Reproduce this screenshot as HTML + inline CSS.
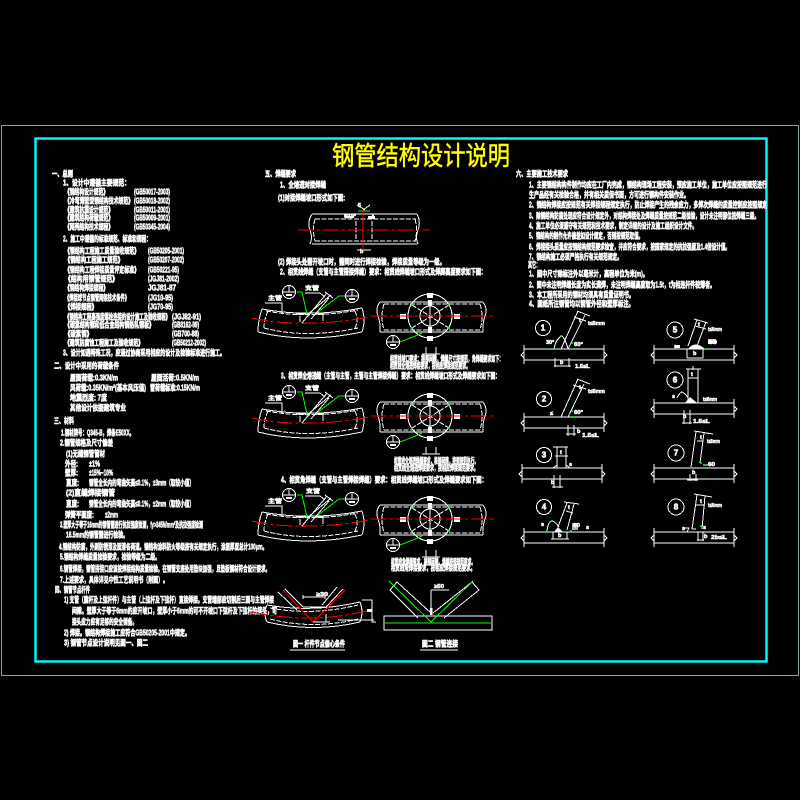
<!DOCTYPE html>
<html><head><meta charset="utf-8"><style>
html,body{margin:0;padding:0;background:#000;width:800px;height:800px;overflow:hidden}
svg{display:block}
.t{font-family:"Liberation Sans","Noto Sans CJK SC",sans-serif;font-size:8px;font-weight:bold;fill:#fff;stroke:#fff;stroke-width:.6;dominant-baseline:central}
.s{font-size:5.5px;stroke-width:.5}
.w,.d,.r,.g{shape-rendering:crispEdges}
.w{fill:none;stroke:#fff;stroke-width:1}
.d{fill:none;stroke:#fff;stroke-width:1;stroke-dasharray:5 1.5}
.r{fill:none;stroke:#f00;stroke-width:1;stroke-dasharray:16 3 3 3}
.g{fill:none;stroke:#0f0;stroke-width:1}
</style></head><body>
<svg width="800" height="800" viewBox="0 0 800 800" xmlns="http://www.w3.org/2000/svg">
<defs>
<g id="jl">
<path class="w" d="M262 309Q310 318 362 308M258 332Q306 344 362 332M262 309Q258 320 258 332M362 308Q366 320 362 332"/>
<path class="d" d="M266 311Q310 319 358 310M264 328Q306 339 358 328M268 311Q264 320 264 328M355 311Q359 320 355 328"/>
<path class="r" d="M252 318Q302 329 370 317"/>
<path class="w" d="M302 323L327 293M307 315L331 295M311 319L329 298M325 292L333 298"/>
<path class="w" d="M300 316V322M323 314V321M296 314H306M316 314H326"/>
<path class="g" d="M297 292H302L307 314M345 296H339L318 312"/>
<circle class="w" cx="289" cy="292" r="6.5"/><circle class="w" cx="352" cy="296" r="6.5"/>
<path class="w" d="M283 292H295M289 286V292M346 296H358M352 290V296"/>
<rect x="286" y="294" width="6" height="2" fill="#fff"/><rect x="349" y="298" width="6" height="2" fill="#fff"/>
<path class="w" d="M265 303H282V313M305 293H320L325 297"/>
</g>
<g id="jr">
<path class="w" d="M380 302H483M380 332H483M380 302Q375 308 378 316Q381 325 380 332M483 302Q488 309 485 316Q482 325 483 332"/>
<path class="d" d="M384 304H481M384 330H481M384 304Q380 316 384 330M480 304Q484 316 480 330"/>
<circle class="w" cx="430" cy="316" r="22"/><circle class="w" cx="430" cy="316" r="10"/>
<path class="d" d="M412 305L449 328M449 305L412 328"/>
<path class="w" d="M430 300V332"/>
<rect x="428" y="300" width="4" height="6" fill="#fff"/><rect x="428" y="327" width="4" height="6" fill="#fff"/>
<circle cx="412" cy="305" r="1" fill="#0f0"/><circle cx="449" cy="305" r="1" fill="#0f0"/><circle cx="412" cy="328" r="1" fill="#0f0"/><circle cx="449" cy="328" r="1" fill="#0f0"/>
<rect x="400" y="314" width="6" height="5" fill="#fff"/><rect x="454" y="314" width="6" height="5" fill="#fff"/>
<rect x="427" y="293" width="6" height="5" fill="#fff"/><rect x="427" y="336" width="6" height="5" fill="#fff"/>
<path class="r" d="M371 316H495"/>
<circle class="w" cx="393" cy="342" r="6.5"/><path class="w" d="M387 342H399M393 336V342"/><rect x="390" y="344" width="6" height="2" fill="#fff"/>
<path class="g" d="M400 342L413 337L422 333"/>
<path class="w" d="M422 354H440M426 347V354M436 347V354"/>
</g>
<g id="pl">
<path class="w" d="M0 0H80M0 11H80M0-4V15M80-4V15M0 3L-3 6L0 9M80 3L83 6L80 9"/>
</g>
</defs>

<rect x="1.5" y="125.5" width="797" height="550" fill="none" stroke="#8aa" stroke-width="1"/>
<rect x="35.5" y="138.5" width="731" height="523" fill="none" stroke="#0ff" stroke-width="2.4"/>

<text x="332" y="165" textLength="178" lengthAdjust="spacingAndGlyphs" style="font-family:'Liberation Sans','Noto Sans CJK SC',sans-serif;font-size:26px;font-weight:normal;fill:#ff0;stroke:#ff0;stroke-width:.5">钢管结构设计说明</text>

<!-- left column -->
<g>
<text class="t" x="52" y="174" textLength="21" lengthAdjust="spacingAndGlyphs">一、总则</text>
<text class="t" x="63" y="183" textLength="67" lengthAdjust="spacingAndGlyphs">1、设计中遵循主要规范：</text>
<text class="t" x="65" y="192" textLength="43" lengthAdjust="spacingAndGlyphs">《钢结构设计规范》</text><text class="t" x="134" y="192" textLength="36" lengthAdjust="spacingAndGlyphs">(GB50017-2003)</text>
<text class="t" x="65" y="201" textLength="68" lengthAdjust="spacingAndGlyphs">《冷弯薄壁型钢结构技术规范》</text><text class="t" x="134" y="201" textLength="36" lengthAdjust="spacingAndGlyphs">(GB50018-2002)</text>
<text class="t" x="65" y="210" textLength="48" lengthAdjust="spacingAndGlyphs">《建筑抗震设计规范》</text><text class="t" x="134" y="210" textLength="36" lengthAdjust="spacingAndGlyphs">(GB50011-2001)</text>
<text class="t" x="65" y="218" textLength="48" lengthAdjust="spacingAndGlyphs">《建筑结构荷载规范》</text><text class="t" x="134" y="218" textLength="36" lengthAdjust="spacingAndGlyphs">(GB50009-2001)</text>
<text class="t" x="65" y="227" textLength="48" lengthAdjust="spacingAndGlyphs">《网壳结构技术规程》</text><text class="t" x="134" y="227" textLength="36" lengthAdjust="spacingAndGlyphs">(GB50345-2004)</text>
<text class="t" x="63" y="239" textLength="88" lengthAdjust="spacingAndGlyphs">2、施工中遵循的标准规范、标准和规程：</text>
<text class="t" x="65" y="251" textLength="74" lengthAdjust="spacingAndGlyphs">《钢结构工程施工质量验收规范》</text><text class="t" x="148" y="251" textLength="36" lengthAdjust="spacingAndGlyphs">(GB50205-2001)</text>
<text class="t" x="65" y="260" textLength="58" lengthAdjust="spacingAndGlyphs">《钢结构工程施工规范》</text><text class="t" x="148" y="260" textLength="36" lengthAdjust="spacingAndGlyphs">(GB50207-2002)</text>
<text class="t" x="65" y="270" textLength="74" lengthAdjust="spacingAndGlyphs">《钢结构工程焊接质量评定标准》</text><text class="t" x="148" y="270" textLength="31" lengthAdjust="spacingAndGlyphs">(GB50221-95)</text>
<text class="t" x="65" y="279" textLength="53" lengthAdjust="spacingAndGlyphs">《结构用钢管规范》</text><text class="t" x="148" y="279" textLength="31" lengthAdjust="spacingAndGlyphs">(JGJ81-2002)</text>
<text class="t" x="65" y="288" textLength="43" lengthAdjust="spacingAndGlyphs">《钢结构焊接规程》</text><text class="t" x="148" y="288" textLength="28" lengthAdjust="spacingAndGlyphs">JGJ81-87</text>
<text class="t" x="65" y="298" textLength="64" lengthAdjust="spacingAndGlyphs">《焊接球节点钢管网架技术条件》</text><text class="t" x="148" y="298" textLength="25" lengthAdjust="spacingAndGlyphs">(JG10-95)</text>
<text class="t" x="65" y="307" textLength="32" lengthAdjust="spacingAndGlyphs">《焊接规程》</text><text class="t" x="148" y="307" textLength="25" lengthAdjust="spacingAndGlyphs">(JG70-95)</text>
<text class="t" x="65" y="317" textLength="105" lengthAdjust="spacingAndGlyphs">《钢结构工程高强度螺栓连接的设计施工及验收规程》</text><text class="t" x="172" y="317" textLength="29" lengthAdjust="spacingAndGlyphs">(JGJ82-91)</text>
<text class="t" x="65" y="325" textLength="89" lengthAdjust="spacingAndGlyphs">《碳素结构钢和低合金结构钢热轧钢板》</text><text class="t" x="172" y="325" textLength="27" lengthAdjust="spacingAndGlyphs">(GB8162-99)</text>
<text class="t" x="65" y="334" textLength="27" lengthAdjust="spacingAndGlyphs">《碳素钢》</text><text class="t" x="172" y="334" textLength="27" lengthAdjust="spacingAndGlyphs">(GB700-88)</text>
<text class="t" x="65" y="343" textLength="78" lengthAdjust="spacingAndGlyphs">《建筑防腐蚀工程施工及验收规范》</text><text class="t" x="172" y="343" textLength="34" lengthAdjust="spacingAndGlyphs">(GB50212-2002)</text>
<text class="t" x="63" y="353" textLength="162" lengthAdjust="spacingAndGlyphs">3、设计如遇特殊工况，应通过协商采用相应的设计及检验标准进行施工。</text>
<text class="t" x="54" y="366" textLength="65" lengthAdjust="spacingAndGlyphs">二、设计中采用的荷载条件</text>
<text class="t" x="70" y="378" textLength="48" lengthAdjust="spacingAndGlyphs">屋面荷载:0.3KN/m</text><text class="t" x="151" y="378" textLength="48" lengthAdjust="spacingAndGlyphs">屋面活荷:0.5KN/m</text>
<text class="t" x="70" y="388" textLength="76" lengthAdjust="spacingAndGlyphs">风荷载:0.35KN/m²(基本风压值)</text><text class="t" x="150" y="388" textLength="50" lengthAdjust="spacingAndGlyphs">雪荷载标准:0.15KN/m</text>
<text class="t" x="70" y="398" textLength="37" lengthAdjust="spacingAndGlyphs">地震烈度: 7度</text>
<text class="t" x="70" y="408" textLength="56" lengthAdjust="spacingAndGlyphs">其他设计依据建筑专业</text>
<text class="t" x="54" y="421" textLength="20" lengthAdjust="spacingAndGlyphs">三、材料</text>
<text class="t" x="61" y="433" textLength="73" lengthAdjust="spacingAndGlyphs">1.钢材牌号：Q345-B，焊条E50XX。</text>
<text class="t" x="60" y="443" textLength="53" lengthAdjust="spacingAndGlyphs">2.钢管规格及尺寸偏差</text>
<text class="t" x="66" y="454" textLength="39" lengthAdjust="spacingAndGlyphs">(1)无缝钢管管材</text>
<text class="t" x="65" y="464" textLength="13" lengthAdjust="spacingAndGlyphs">外径:</text><text class="t" x="89" y="464" textLength="11" lengthAdjust="spacingAndGlyphs">±1%</text>
<text class="t" x="65" y="473" textLength="13" lengthAdjust="spacingAndGlyphs">壁厚:</text><text class="t" x="89" y="473" textLength="24" lengthAdjust="spacingAndGlyphs">±15%~10%</text>
<text class="t" x="66" y="483" textLength="13" lengthAdjust="spacingAndGlyphs">直度:</text><text class="t" x="89" y="483" textLength="105" lengthAdjust="spacingAndGlyphs">钢管全长内的弯曲矢高≤0.1%，±3mm（取较小值）</text>
<text class="t" x="66" y="493" textLength="49" lengthAdjust="spacingAndGlyphs">(2)直缝焊接钢管</text>
<text class="t" x="66" y="504" textLength="13" lengthAdjust="spacingAndGlyphs">直度:</text><text class="t" x="89" y="504" textLength="105" lengthAdjust="spacingAndGlyphs">钢管全长内的弯曲矢高≤0.1%，±2mm（取较小值）</text>
<text class="t" x="65" y="515" textLength="29" lengthAdjust="spacingAndGlyphs">弹簧平面度:</text><text class="t" x="105" y="515" textLength="13" lengthAdjust="spacingAndGlyphs">±2mm</text>
<text class="t" x="60" y="525" textLength="143" lengthAdjust="spacingAndGlyphs">3.壁厚大于等于16mm的钢管需进行抗拉强度检测，fy&gt;345N/mm²及抗拉强度检测</text>
<text class="t" x="66" y="535" textLength="62" lengthAdjust="spacingAndGlyphs">16.5mm的钢管需进行检验。</text>
<text class="t" x="59" y="547" textLength="208" lengthAdjust="spacingAndGlyphs">4.钢结构防腐，外刷防锈漆及面漆各两道。钢结构涂料防火等级按有关规定执行，涂层厚度总计100μm。</text>
<text class="t" x="60" y="557" textLength="100" lengthAdjust="spacingAndGlyphs">5.钢结构焊缝质量检验要求，检验等级为二级。</text>
<text class="t" x="60" y="569" textLength="210" lengthAdjust="spacingAndGlyphs">6.钢管焊接，钢管拼接口应该按焊接结构质量检验。在钢管支座处用垫块加强，且垫板钢材符合设计要求。</text>
<text class="t" x="60" y="580" textLength="108" lengthAdjust="spacingAndGlyphs">7.上述要求，具体详见中性工艺说明书（附图）。</text>
<text class="t" x="55" y="590" textLength="35" lengthAdjust="spacingAndGlyphs">四、钢管节点杆件</text>
<text class="t" x="64" y="600" textLength="210" lengthAdjust="spacingAndGlyphs">1) 支管（腹杆及上弦杆件）与主管（上弦杆及下弦杆）直接焊接。支管端部应切割后三面与主管焊接</text>
<text class="t" x="72" y="611" textLength="205" lengthAdjust="spacingAndGlyphs">间隙。壁厚大于等于6mm的应开坡口，壁厚小于6mm的可不开坡口下弦杆及下弦杆的接头，可</text>
<text class="t" x="72" y="622" textLength="65" lengthAdjust="spacingAndGlyphs">接头应力应有足够的安全储备。</text>
<text class="t" x="64" y="633" textLength="126" lengthAdjust="spacingAndGlyphs">2) 焊接。钢结构焊接施工应符合GB50205-2001中规定。</text>
<text class="t" x="64" y="643" textLength="84" lengthAdjust="spacingAndGlyphs">3) 钢管节点设计说明见图一、图二</text>

<!-- middle text -->
<text class="t" x="265" y="174" textLength="31" lengthAdjust="spacingAndGlyphs">五、焊缝要求</text>
<text class="t" x="280" y="185" textLength="46" lengthAdjust="spacingAndGlyphs">1、全熔透对接焊缝</text>
<text class="t" x="278" y="198" textLength="67" lengthAdjust="spacingAndGlyphs">(1)对接焊缝坡口形式如下图:</text>
<text class="t" x="278" y="262" textLength="167" lengthAdjust="spacingAndGlyphs">(2) 焊接头处需开坡口时，需同时进行焊接检验，焊接质量等级为一级。</text>
<text class="t" x="280" y="272" textLength="206" lengthAdjust="spacingAndGlyphs">2、相贯线焊缝（支管与主管搭接焊缝）要求：相贯线焊缝坡口形式及焊脚高度要求如下图：</text>
<text class="t" x="281" y="376" textLength="219" lengthAdjust="spacingAndGlyphs">3、相贯焊全熔透缝（主管与主管，主管与主管焊接焊缝）要求：相贯线焊缝坡口形式及焊缝要求如下图：</text>
<text class="t" x="281" y="480" textLength="206" lengthAdjust="spacingAndGlyphs">4、相贯角焊缝（支管与主管焊接焊缝）要求：相贯线焊缝坡口形式及焊缝要求如下图：</text>
<text class="t" x="390" y="359" textLength="113" lengthAdjust="spacingAndGlyphs">相贯线坡口要求：根部间隙，焊缝尺寸按规范，角焊缝要求如下：</text>
<text class="t" x="390" y="366" textLength="80" lengthAdjust="spacingAndGlyphs">相贯线全熔透焊接要求，按相应焊接规范要求。</text>
<text class="t" x="394" y="461" textLength="84" lengthAdjust="spacingAndGlyphs">相贯线全熔透焊缝要求，根部间隙，按照规范执行。</text>
<text class="t" x="394" y="468" textLength="84" lengthAdjust="spacingAndGlyphs">相贯线全熔透焊接要求，按相应焊接规范要求。</text>
<text class="t" x="391" y="562" textLength="84" lengthAdjust="spacingAndGlyphs">相贯线角焊缝要求，根部间隙，焊缝按照规范要求。</text>
<text class="t" x="391" y="568" textLength="84" lengthAdjust="spacingAndGlyphs">相贯线角焊接要求，按相应焊接规范要求。</text>
<text class="t s" x="358" y="206">5</text>
<text class="t s" x="344" y="217" textLength="12" lengthAdjust="spacingAndGlyphs">60°</text>
<text class="t s" x="372" y="217">t</text>
<text class="t s" x="360" y="252">b</text>
<text class="t s" x="305" y="289" textLength="14" lengthAdjust="spacingAndGlyphs">支管</text>
<text class="t s" x="268" y="299" textLength="14" lengthAdjust="spacingAndGlyphs">主管</text>
<text class="t s" x="305" y="389" textLength="14" lengthAdjust="spacingAndGlyphs">支管</text>
<text class="t s" x="268" y="399" textLength="14" lengthAdjust="spacingAndGlyphs">主管</text>
<text class="t s" x="306" y="492" textLength="14" lengthAdjust="spacingAndGlyphs">支管</text>
<text class="t s" x="268" y="502" textLength="14" lengthAdjust="spacingAndGlyphs">主管</text>
<text class="t s" x="316" y="595" textLength="12" lengthAdjust="spacingAndGlyphs">≥30</text>
<text class="t s" x="434" y="587" textLength="10" lengthAdjust="spacingAndGlyphs">≥50</text>
<text class="t" x="293" y="644" textLength="52" lengthAdjust="spacingAndGlyphs">图一 杆件节点偏心条件</text>
<text class="t" x="422" y="644" textLength="36" lengthAdjust="spacingAndGlyphs">图二 钢管连接</text>

<!-- right text -->
<text class="t" x="516" y="174" textLength="52" lengthAdjust="spacingAndGlyphs">六、主要施工技术要求</text>
<text class="t" x="529" y="185" textLength="238" lengthAdjust="spacingAndGlyphs">1、主要钢结构构件制作均应在工厂内完成，钢结构现场工程安装，预应施工单位，施工单位应按照规范进行</text>
<text class="t" x="529" y="195" textLength="160" lengthAdjust="spacingAndGlyphs">生产品经有关检验合格，并有相关质保书面，方可进行钢构件安装作业。</text>
<text class="t" x="529" y="205" textLength="238" lengthAdjust="spacingAndGlyphs">2、钢结构焊接应按规范有关焊接规程规定执行，防止焊接产生的残余应力，多焊次焊缝的质量控制应按照规定</text>
<text class="t" x="529" y="216" textLength="230" lengthAdjust="spacingAndGlyphs">3、除钢结构防腐处理应符合设计规定外，对结构焊接处及焊缝质量按规范二级检验，设计未注明部位按焊缝三级。</text>
<text class="t" x="529" y="226" textLength="168" lengthAdjust="spacingAndGlyphs">4、施工单位必须遵守有关规范和技术要求，制定详细的设计及施工组织设计文件。</text>
<text class="t" x="529" y="236" textLength="114" lengthAdjust="spacingAndGlyphs">5、钢结构的制作允许偏差如设计规定，否则按规范取值。</text>
<text class="t" x="529" y="247" textLength="201" lengthAdjust="spacingAndGlyphs">6、焊接接头质量应按钢结构规范要求检查，并应符合要求，按国家规定的抗拉强度及1.4倍设计值。</text>
<text class="t" x="529" y="257" textLength="93" lengthAdjust="spacingAndGlyphs">7、钢结构施工必须严格执行有关规范规定。</text>
<text class="t" x="528" y="265" textLength="12" lengthAdjust="spacingAndGlyphs">其它：</text>
<text class="t" x="529" y="274" textLength="119" lengthAdjust="spacingAndGlyphs">1、图中尺寸除标注外以毫米计，高程单位为米(m)。</text>
<text class="t" x="529" y="285" textLength="186" lengthAdjust="spacingAndGlyphs">2、图中未注明焊缝长度为实长满焊，未注明焊缝高度取为1.5t，t为相连杆件较薄者。</text>
<text class="t" x="529" y="295" textLength="105" lengthAdjust="spacingAndGlyphs">3、本工程所采用的钢材均须具有质量证明书。</text>
<text class="t" x="529" y="304" textLength="105" lengthAdjust="spacingAndGlyphs">4、图纸所注钢管均以钢管外径和壁厚标注。</text>
</g>

<!-- butt weld pipe -->
<path class="w" d="M312 214H417M312 244H417M312 214Q307 222 310 230Q313 238 310 244M417 214Q421 222 418 230Q415 238 418 244"/>
<path class="d" d="M315 219H416M315 241H416M315 219Q312 230 315 241M415 219Q418 230 415 241"/>
<path class="d" d="M356 221V241M372 221V241"/>
<rect x="346" y="216" width="8" height="2" fill="#fff"/><rect x="368" y="216" width="7" height="3" fill="#fff"/>
<path class="w" d="M357 205L365 210M370 205L363 210M357 250H371"/>
<path class="g" d="M358 211H370"/>
<path class="r" d="M298 230H430"/>
<path d="M363 210V250" stroke="#f00" stroke-width="1" fill="none" shape-rendering="crispEdges"/>

<use href="#jl"/><use href="#jr"/>
<use href="#jl" y="100"/><use href="#jr" y="100"/>
<use href="#jl" y="203"/><use href="#jr" y="203"/>

<!-- fig 1 -->
<path class="w" d="M267 605Q313 613 360 602M267 622Q313 633 360 622M267 605Q263 614 267 622M360 602Q364 612 360 622"/>
<path class="d" d="M270 608Q313 616 358 605M270 619Q313 630 358 619"/>
<path class="w" d="M285 589L303 607M278 592L297 610M343 589L326 607M337 587L322 605"/>
<path class="w" d="M303 597H325M303 595V599M325 595V599M303 607H325"/>
<path d="M283 590L313 622L345 590" fill="none" stroke="#f00" stroke-width="1" shape-rendering="crispEdges"/>
<path class="r" d="M252 612Q313 625 370 610"/>
<path class="w" d="M313 622H330M326 614V622M362 600H372V622L376 622M338 620H374"/>
<rect x="367" y="609" width="5" height="3" fill="#fff"/>
<path class="w" d="M290 650H345M420 650H458" stroke-width="1.4"/>

<!-- fig 2 -->
<rect x="384" y="616" width="108" height="14" fill="none" stroke="#fff" stroke-width="1" shape-rendering="crispEdges"/>
<path class="w" d="M390 590L397 582L431 613M390 590L418 618M472 582L479 590L444 618M472 582L433 613"/>
<path class="w" d="M431 590V615M431 590H449"/>
<rect x="430" y="608" width="2.5" height="7" fill="#fff"/>
<path class="g" d="M389 581L431 622L473 581M385 623H491"/>

<!-- weld details -->
<g>
<circle class="w" cx="543" cy="328" r="7.5"/><text class="t" x="543" y="328" text-anchor="middle">1</text>
<use href="#pl" x="524" y="349"/>
<path class="w" d="M561 349L578 311M568 349L585 315M577 311L590 316M574 317L586 321M554 349Q556 338 562 336Q566 340 568 349"/>
<circle cx="561" cy="336" r="1" fill="#0f0"/><circle cx="572" cy="349" r="1" fill="#0f0"/><circle cx="555" cy="349" r="1" fill="#0f0"/><circle cx="572" cy="343" r="1" fill="#0f0"/>
<text class="t s" x="579" y="321">t</text><text class="t s" x="588" y="324" textLength="17" lengthAdjust="spacingAndGlyphs">t≤6mm</text>
<text class="t s" x="546" y="343">30°</text><text class="t s" x="574" y="345" textLength="9" lengthAdjust="spacingAndGlyphs">60°</text>
<text class="t s" x="560" y="363">b</text><text class="t s" x="575" y="367" textLength="15" lengthAdjust="spacingAndGlyphs">1.5≤L</text>
<path class="w" d="M555 358V367M569 358V367M554 366H571"/>

<circle class="w" cx="544" cy="399" r="7.5"/><text class="t" x="544" y="399" text-anchor="middle">2</text>
<use href="#pl" x="524" y="417"/>
<path class="w" d="M561 417L578 379M568 417L584 384M577 379L590 384M573 385L586 389M553 417H560"/>
<circle cx="572" cy="411" r="1" fill="#0f0"/><circle cx="574" cy="417" r="1" fill="#0f0"/>
<text class="t s" x="579" y="388">t</text><text class="t s" x="588" y="392" textLength="17" lengthAdjust="spacingAndGlyphs">t≤6mm</text>
<text class="t s" x="550" y="414">≤</text><text class="t s" x="574" y="413" textLength="9" lengthAdjust="spacingAndGlyphs">60°</text>
<text class="t s" x="577" y="432">b</text><text class="t s" x="582" y="436" textLength="17" lengthAdjust="spacingAndGlyphs">1.5≤L</text>
<path class="w" d="M568 425V436M574 425V436M566 434H576"/>

<circle class="w" cx="544" cy="455" r="7.5"/><text class="t" x="544" y="455" text-anchor="middle">3</text>
<use href="#pl" x="522" y="468"/>
<path class="w" d="M557 447V468M566 447V468M553 447H568M555 456H568M553 468L557 465M566 465L570 468M554 475V488M560 475V488M552 487H563"/>
<text class="t s" x="560" y="453">t</text><text class="t s" x="569" y="465">s</text><text class="t s" x="551" y="483">b</text>

<circle class="w" cx="544" cy="507" r="7.5"/><text class="t" x="544" y="507" text-anchor="middle">4</text>
<use href="#pl" x="524" y="532"/>
<path class="w" d="M558 527L567 503M567 530L574 504M564 502L579 504M566 511L573 513M547 531Q548 522 552 521Q556 522 559 527"/>
<path d="M554 532L558 527L563 532Z" fill="#fff"/>
<path class="w" d="M553 532V539M567 532V539M551 539H569"/>
<circle cx="552" cy="521" r="1" fill="#0f0"/><circle cx="547" cy="531" r="1" fill="#0f0"/><circle cx="571" cy="531" r="1" fill="#0f0"/>
<text class="t s" x="568" y="508">t</text><text class="t s" x="541" y="525">s</text><text class="t s" x="573" y="526" textLength="7" lengthAdjust="spacingAndGlyphs">60</text><text class="t s" x="586" y="528">s</text><text class="t s" x="558" y="536">b</text>
<rect x="572" y="523" width="6" height="7" fill="#fff" fill-opacity=".7"/>

<circle class="w" cx="675" cy="330" r="8"/><text class="t" x="675" y="330" text-anchor="middle">5</text>
<use href="#pl" x="654" y="349"/>
<path class="w" d="M688 346L697 320M697 346L706 322M694 319L708 323M695 326L706 329M687 349V358M703 349V358H687"/>
<path d="M688 349Q695 340 705 349Z" fill="#fff"/>
<circle cx="705" cy="349" r="1" fill="#0f0"/>
<text class="t s" x="698" y="325">t</text><text class="t s" x="708" y="330" textLength="14" lengthAdjust="spacingAndGlyphs">t≤6mm</text>
<text class="t s" x="674" y="347">s</text><text class="t s" x="708" y="343" textLength="9" lengthAdjust="spacingAndGlyphs">60</text><text class="t s" x="693" y="354">b</text>
<rect x="708" y="339" width="8" height="5" fill="#fff" fill-opacity=".8"/><rect x="675" y="345" width="5" height="3" fill="#fff"/>

<circle class="w" cx="675" cy="380" r="8"/><text class="t" x="675" y="380" text-anchor="middle">6</text>
<use href="#pl" x="654" y="403"/>
<path class="w" d="M688 369V403M698 369V403M686 369H701M688 378H698M693 366V370M677 398Q680 392 682 392Q686 394 688 398"/>
<path d="M685 403L690 397L697 403Z" fill="#fff"/>
<text class="t s" x="691" y="375">t</text><text class="t s" x="672" y="397">s</text>
<text class="t s" x="703" y="400" textLength="14" lengthAdjust="spacingAndGlyphs">t≤6mm</text>
<text class="t s" x="683" y="417">b</text><text class="t s" x="693" y="422" textLength="17" lengthAdjust="spacingAndGlyphs">1.5≤L</text>
<path class="w" d="M684 410V424M690 410V424M682 423H692"/>

<circle class="w" cx="676" cy="453" r="8"/><text class="t" x="676" y="453" text-anchor="middle">7</text>
<use href="#pl" x="654" y="468"/>
<path class="w" d="M691 467L696 432M700 463L704 433M694 431L713 434M697 441L703 441M689 468H697M703 465H708M690 474V481M696 474V481M687 480H698"/>
<circle cx="701" cy="463" r="1" fill="#0f0"/><circle cx="704" cy="468" r="1" fill="#0f0"/>
<text class="t s" x="700" y="438">t</text><text class="t s" x="707" y="442" textLength="13" lengthAdjust="spacingAndGlyphs">t≤6mm</text>
<text class="t s" x="708" y="465" textLength="7" lengthAdjust="spacingAndGlyphs">60</text><text class="t s" x="692" y="473">b</text>

<circle class="w" cx="676" cy="507" r="8"/><text class="t" x="676" y="507" text-anchor="middle">8</text>
<use href="#pl" x="654" y="532"/>
<path class="w" d="M692 529L697 495M702 529L705 496M694 494L712 497M696 505L705 505M692 529H696M683 528H689L687 532M698 532V541M703 532V541M697 540H704"/>
<circle cx="701" cy="526" r="1" fill="#0f0"/>
<text class="t s" x="700" y="502">t</text><text class="t s" x="708" y="506" textLength="14" lengthAdjust="spacingAndGlyphs">t≤6mm</text>
<text class="t s" x="682" y="529">s</text><text class="t s" x="703" y="528">s</text><text class="t s" x="704" y="537">b</text>
<text class="t s" x="711" y="538" textLength="16" lengthAdjust="spacingAndGlyphs">2b≤L</text>
</g>
</svg>
</body></html>
